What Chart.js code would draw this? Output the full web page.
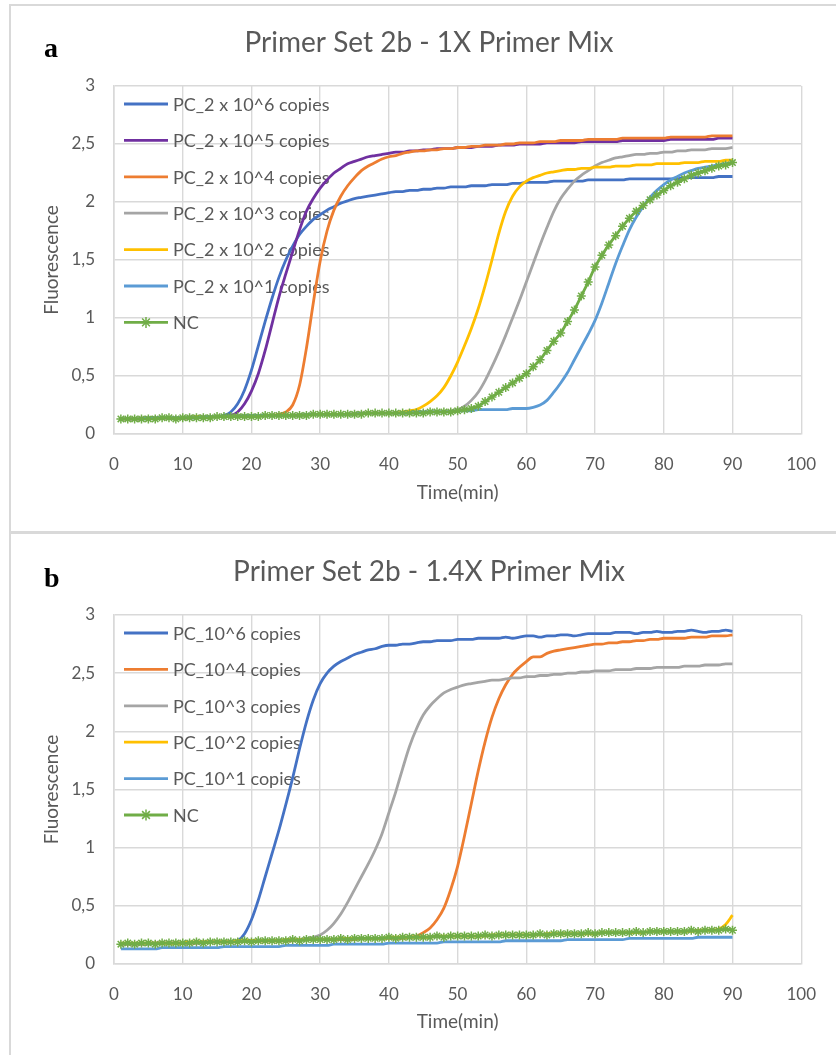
<!DOCTYPE html>
<html>
<head>
<meta charset="utf-8">
<title>Primer Set 2b</title>
<script src="https://cdn.jsdelivr.net/npm/chart.js@4.4.1/dist/chart.umd.min.js"></script>
<style>
  body { margin: 0; background: #fff; width: 836px; height: 1055px; overflow: hidden; position: relative; }
  .panel { position: absolute; left: 0; width: 836px; }
  .line { position: absolute; background: #d9d9d9; }
  .tag { position: absolute; left: 44px; font: bold 28px "Liberation Serif", serif; line-height: 28px; color: #000; }
</style>
</head>
<body>
<div class="panel" style="top:0;height:531px;"><canvas id="chartA"></canvas></div>
<div class="panel" style="top:534px;height:521px;"><canvas id="chartB"></canvas></div>
<div class="line" style="left:9px;top:4px;width:827px;height:2px;"></div>
<div class="line" style="left:9px;top:4px;width:2px;height:1051px;"></div>
<div class="line" style="left:9px;top:531px;width:827px;height:3px;"></div>
<div class="tag" style="top:34px;">a</div>
<div class="tag" style="top:564px;">b</div>

<script>
// sampling times, one reading per minute
var minutes = Array.from({ length: 90 }, function (_, i) { return i + 1; });

var xTickLabels = ['0', '10', '20', '30', '40', '50', '60', '70', '80', '90', '100'];
var yTickLabels = ['0', '0,5', '1', '1,5', '2', '2,5', '3'];

// ---- a: 1X primer mix ----
var labelsA = ['PC_2 x 10^6 copies', 'PC_2 x 10^5 copies', 'PC_2 x 10^4 copies',
               'PC_2 x 10^3 copies', 'PC_2 x 10^2 copies', 'PC_2 x 10^1 copies', 'NC'];
var colorsA = ['#4472C4', '#7030A0', '#ED7D31', '#A5A5A5', '#FFC000', '#5B9BD5', '#70AD47'];

var a_pc6 = [0.13,0.13,0.13,0.13,0.13,0.14,0.14,0.14,0.14,0.14,
             0.14,0.14,0.15,0.15,0.15,0.16,0.19,0.26,0.38,0.55,
             0.76,0.97,1.17,1.35,1.50,1.62,1.72,1.79,1.85,1.89,
             1.93,1.96,1.99,2.01,2.03,2.04,2.05,2.06,2.07,2.08,
             2.09,2.09,2.10,2.10,2.11,2.11,2.12,2.12,2.13,2.13,
             2.13,2.14,2.14,2.14,2.15,2.15,2.15,2.16,2.16,2.17,
             2.17,2.17,2.17,2.18,2.18,2.18,2.18,2.18,2.19,2.19,
             2.19,2.19,2.19,2.19,2.20,2.20,2.20,2.20,2.20,2.20,
             2.20,2.20,2.21,2.21,2.21,2.21,2.21,2.22,2.22,2.22];
var a_pc5 = [0.13,0.13,0.13,0.13,0.14,0.14,0.14,0.14,0.14,0.14,
             0.14,0.15,0.15,0.15,0.15,0.15,0.16,0.19,0.26,0.37,
             0.52,0.72,0.95,1.18,1.38,1.57,1.76,1.92,2.03,2.12,
             2.19,2.25,2.29,2.33,2.35,2.37,2.39,2.40,2.41,2.42,
             2.43,2.43,2.44,2.44,2.45,2.45,2.46,2.46,2.46,2.47,
             2.47,2.47,2.48,2.48,2.48,2.49,2.49,2.49,2.50,2.50,
             2.50,2.50,2.51,2.51,2.51,2.51,2.51,2.52,2.52,2.52,
             2.52,2.52,2.52,2.53,2.53,2.53,2.53,2.53,2.53,2.53,
             2.54,2.54,2.54,2.54,2.54,2.54,2.54,2.55,2.55,2.55];
var a_pc4 = [0.13,0.13,0.13,0.13,0.14,0.14,0.14,0.14,0.14,0.14,
             0.14,0.15,0.15,0.15,0.15,0.15,0.15,0.16,0.16,0.16,
             0.16,0.16,0.16,0.17,0.19,0.25,0.42,0.74,1.13,1.49,
             1.75,1.93,2.05,2.14,2.21,2.27,2.31,2.34,2.37,2.39,
             2.40,2.42,2.43,2.44,2.44,2.45,2.45,2.46,2.46,2.47,
             2.47,2.48,2.48,2.49,2.49,2.49,2.50,2.50,2.51,2.51,
             2.51,2.52,2.52,2.52,2.53,2.53,2.53,2.53,2.54,2.54,
             2.54,2.54,2.54,2.55,2.55,2.55,2.55,2.55,2.55,2.55,
             2.56,2.56,2.56,2.56,2.56,2.56,2.57,2.57,2.57,2.57];
var a_pc3 = [0.13,0.13,0.13,0.14,0.14,0.14,0.14,0.14,0.14,0.14,
             0.15,0.15,0.15,0.15,0.15,0.15,0.15,0.16,0.16,0.16,
             0.16,0.16,0.16,0.16,0.16,0.16,0.17,0.17,0.17,0.17,
             0.17,0.17,0.17,0.17,0.18,0.18,0.18,0.18,0.18,0.18,
             0.18,0.18,0.18,0.18,0.19,0.19,0.19,0.19,0.20,0.21,
             0.24,0.29,0.36,0.46,0.58,0.71,0.85,1.00,1.15,1.31,
             1.47,1.63,1.78,1.92,2.03,2.11,2.18,2.23,2.27,2.31,
             2.34,2.36,2.38,2.39,2.40,2.41,2.41,2.42,2.42,2.43,
             2.43,2.44,2.44,2.45,2.45,2.45,2.46,2.46,2.46,2.47];
var a_pc2 = [0.13,0.13,0.13,0.13,0.14,0.14,0.14,0.14,0.14,0.14,
             0.14,0.15,0.15,0.15,0.15,0.15,0.15,0.15,0.16,0.16,
             0.16,0.16,0.16,0.16,0.16,0.16,0.16,0.17,0.17,0.17,
             0.17,0.17,0.17,0.17,0.17,0.18,0.18,0.18,0.18,0.18,
             0.18,0.19,0.20,0.21,0.24,0.28,0.33,0.40,0.50,0.62,
             0.76,0.91,1.08,1.28,1.50,1.73,1.92,2.05,2.13,2.18,
             2.21,2.23,2.25,2.26,2.27,2.28,2.28,2.29,2.29,2.30,
             2.30,2.30,2.31,2.31,2.31,2.32,2.32,2.32,2.33,2.33,
             2.33,2.33,2.34,2.34,2.34,2.35,2.35,2.35,2.36,2.36];
var a_pc1 = [0.13,0.13,0.13,0.13,0.14,0.14,0.14,0.14,0.14,0.14,
             0.14,0.14,0.15,0.15,0.15,0.15,0.15,0.15,0.16,0.16,
             0.16,0.16,0.16,0.16,0.16,0.16,0.16,0.17,0.17,0.17,
             0.17,0.17,0.17,0.17,0.17,0.18,0.18,0.18,0.18,0.18,
             0.18,0.18,0.18,0.19,0.19,0.19,0.19,0.19,0.19,0.20,
             0.20,0.20,0.21,0.21,0.21,0.21,0.21,0.22,0.22,0.22,
             0.23,0.25,0.29,0.36,0.44,0.53,0.64,0.75,0.86,0.98,
             1.13,1.30,1.47,1.62,1.76,1.87,1.96,2.04,2.10,2.15,
             2.19,2.22,2.25,2.27,2.29,2.30,2.31,2.32,2.33,2.34];
var a_nc  = [0.13,0.13,0.13,0.13,0.13,0.13,0.14,0.14,0.13,0.14,
             0.14,0.14,0.14,0.14,0.15,0.15,0.15,0.15,0.15,0.15,
             0.15,0.16,0.16,0.16,0.16,0.16,0.16,0.16,0.17,0.17,
             0.17,0.17,0.17,0.17,0.17,0.17,0.18,0.18,0.18,0.18,
             0.18,0.18,0.18,0.18,0.18,0.19,0.19,0.19,0.19,0.20,
             0.21,0.22,0.24,0.28,0.32,0.36,0.40,0.44,0.48,0.52,
             0.58,0.64,0.72,0.80,0.87,0.97,1.07,1.19,1.31,1.44,
             1.54,1.63,1.71,1.79,1.86,1.92,1.97,2.02,2.06,2.10,
             2.14,2.17,2.20,2.23,2.25,2.27,2.29,2.31,2.32,2.34];

// ---- b: 1.4X primer mix ----
var labelsB = ['PC_10^6 copies', 'PC_10^4 copies', 'PC_10^3 copies',
               'PC_10^2 copies', 'PC_10^1 copies', 'NC'];
var colorsB = ['#4472C4', '#ED7D31', '#A5A5A5', '#FFC000', '#5B9BD5', '#70AD47'];

var b_pc6 = [0.17,0.17,0.17,0.17,0.17,0.18,0.18,0.18,0.18,0.18,
             0.18,0.18,0.18,0.19,0.19,0.19,0.19,0.20,0.26,0.38,
             0.55,0.75,0.95,1.15,1.37,1.60,1.85,2.08,2.27,2.41,
             2.50,2.56,2.60,2.63,2.66,2.68,2.70,2.71,2.73,2.74,
             2.74,2.75,2.75,2.76,2.77,2.77,2.78,2.78,2.78,2.79,
             2.79,2.79,2.80,2.80,2.80,2.80,2.81,2.80,2.81,2.82,
             2.82,2.81,2.82,2.82,2.83,2.83,2.82,2.83,2.84,2.84,
             2.84,2.84,2.85,2.85,2.85,2.84,2.85,2.85,2.86,2.85,
             2.85,2.86,2.86,2.87,2.86,2.85,2.86,2.86,2.87,2.86];
var b_pc4 = [0.17,0.17,0.17,0.17,0.18,0.18,0.18,0.18,0.18,0.18,
             0.18,0.18,0.19,0.19,0.19,0.19,0.19,0.19,0.20,0.20,
             0.20,0.20,0.20,0.20,0.20,0.20,0.21,0.21,0.21,0.21,
             0.21,0.21,0.21,0.21,0.21,0.22,0.22,0.22,0.22,0.22,
             0.22,0.22,0.23,0.24,0.27,0.31,0.38,0.48,0.64,0.84,
             1.10,1.38,1.66,1.91,2.12,2.28,2.40,2.49,2.55,2.60,
             2.64,2.64,2.67,2.69,2.70,2.71,2.72,2.73,2.74,2.75,
             2.75,2.76,2.76,2.77,2.77,2.78,2.78,2.79,2.79,2.80,
             2.80,2.80,2.80,2.81,2.81,2.81,2.82,2.82,2.82,2.83];
var b_pc3 = [0.17,0.17,0.17,0.17,0.18,0.18,0.18,0.18,0.18,0.18,
             0.18,0.19,0.19,0.19,0.19,0.19,0.19,0.20,0.20,0.20,
             0.20,0.20,0.20,0.20,0.21,0.21,0.21,0.22,0.23,0.25,
             0.29,0.35,0.43,0.53,0.64,0.75,0.86,0.98,1.12,1.30,
             1.48,1.68,1.87,2.02,2.14,2.22,2.28,2.33,2.36,2.38,
             2.40,2.41,2.42,2.43,2.44,2.44,2.45,2.46,2.46,2.47,
             2.47,2.48,2.48,2.49,2.49,2.50,2.50,2.51,2.51,2.52,
             2.52,2.52,2.53,2.53,2.53,2.54,2.54,2.54,2.55,2.55,
             2.55,2.55,2.56,2.56,2.56,2.57,2.57,2.57,2.58,2.58];
var b_pc2 = [0.18,0.18,0.18,0.18,0.18,0.18,0.18,0.18,0.18,0.18,
             0.19,0.19,0.19,0.19,0.19,0.19,0.19,0.20,0.20,0.20,
             0.20,0.20,0.20,0.20,0.21,0.21,0.21,0.21,0.21,0.21,
             0.21,0.21,0.22,0.22,0.22,0.22,0.22,0.22,0.22,0.23,
             0.23,0.23,0.23,0.23,0.23,0.23,0.24,0.24,0.24,0.24,
             0.24,0.24,0.24,0.24,0.25,0.25,0.25,0.25,0.25,0.25,
             0.25,0.25,0.26,0.26,0.26,0.26,0.26,0.26,0.26,0.26,
             0.27,0.27,0.27,0.27,0.27,0.27,0.27,0.28,0.28,0.28,
             0.28,0.28,0.28,0.28,0.29,0.29,0.29,0.30,0.34,0.42];
var b_pc1 = [0.13,0.13,0.13,0.13,0.13,0.13,0.14,0.14,0.14,0.14,
             0.14,0.14,0.14,0.14,0.14,0.15,0.15,0.15,0.15,0.15,
             0.15,0.15,0.15,0.15,0.16,0.16,0.16,0.16,0.16,0.16,
             0.16,0.17,0.17,0.17,0.17,0.17,0.17,0.17,0.17,0.18,
             0.18,0.18,0.18,0.18,0.18,0.18,0.18,0.19,0.19,0.19,
             0.19,0.19,0.19,0.19,0.19,0.19,0.20,0.20,0.20,0.20,
             0.20,0.20,0.20,0.20,0.20,0.21,0.21,0.21,0.21,0.21,
             0.21,0.21,0.21,0.21,0.22,0.22,0.22,0.22,0.22,0.22,
             0.22,0.22,0.22,0.22,0.23,0.23,0.23,0.23,0.23,0.23];
var b_nc  = [0.17,0.18,0.17,0.18,0.18,0.17,0.18,0.18,0.18,0.18,
             0.18,0.19,0.18,0.19,0.19,0.19,0.19,0.19,0.20,0.19,
             0.20,0.20,0.20,0.20,0.20,0.21,0.20,0.21,0.21,0.21,
             0.21,0.21,0.22,0.21,0.22,0.22,0.22,0.22,0.22,0.23,
             0.22,0.23,0.23,0.23,0.23,0.23,0.24,0.23,0.24,0.24,
             0.24,0.24,0.24,0.25,0.24,0.25,0.25,0.25,0.25,0.25,
             0.25,0.26,0.25,0.26,0.26,0.26,0.26,0.26,0.27,0.26,
             0.27,0.27,0.27,0.27,0.27,0.28,0.27,0.28,0.28,0.28,
             0.28,0.28,0.28,0.29,0.28,0.29,0.29,0.29,0.30,0.29];

var seriesA = [a_pc6, a_pc5, a_pc4, a_pc3, a_pc2, a_pc1, a_nc];
var seriesB = [b_pc6, b_pc4, b_pc3, b_pc2, b_pc1, b_nc];

var FONT = 'Lato, "Open Sans", sans-serif';
var TEXT = '#595959';
var GRID = '#d9d9d9';
Chart.defaults.font.family = FONT;
Chart.defaults.color = TEXT;

// legend drawn inside the plot area, under the curves
var insideLegend = {
  id: 'insideLegend',
  beforeDatasetsDraw: function (chart, args, opts) {
    var ctx = chart.ctx, area = chart.chartArea;
    ctx.save();
    ctx.font = opts.fontSize + 'px ' + FONT;
    ctx.textBaseline = 'middle';
    chart.data.datasets.forEach(function (ds, i) {
      var y = area.top + opts.top + i * opts.rowGap;
      var x0 = area.left + opts.left;
      ctx.strokeStyle = ds.borderColor;
      ctx.lineWidth = ds.borderWidth;
      ctx.beginPath();
      ctx.moveTo(x0, y);
      ctx.lineTo(x0 + opts.lineLength, y);
      ctx.stroke();
      if (ds.pointRadius > 0) {
        ctx.lineWidth = ds.pointBorderWidth;
        Chart.helpers.drawPoint(ctx, { pointStyle: ds.pointStyle, radius: 5.5, borderWidth: ds.pointBorderWidth, rotation: 0 }, x0 + opts.lineLength / 2, y);
      }
      ctx.fillStyle = TEXT;
      ctx.fillText(ds.label, x0 + opts.lineLength + opts.gap, y + 1);
    });
    ctx.restore();
  }
};

function makeChart(id, title, labels, colors, series, g) {
  var datasets = labels.map(function (name, i) {
    var isNC = name === 'NC';
    return {
      label: name,
      data: minutes.map(function (t, k) { return { x: t, y: series[i][k] }; }),
      borderColor: colors[i],
      backgroundColor: colors[i],
      borderWidth: 2.8,
      cubicInterpolationMode: 'monotone',
      pointStyle: isNC ? 'star' : 'circle',
      pointRadius: isNC ? 4.5 : 0,
      pointBorderColor: colors[i],
      pointBorderWidth: 1.5,
      order: labels.length - i
    };
  });

  return new Chart(document.getElementById(id), {
    type: 'line',
    data: { datasets: datasets },
    plugins: [insideLegend],
    options: {
      responsive: true,
      maintainAspectRatio: false,
      animation: false,
      layout: { padding: { left: 49, right: 27, top: 0, bottom: 0 } },
      plugins: {
        legend: { display: false },
        tooltip: { enabled: false },
        title: {
          display: true,
          text: title,
          color: TEXT,
          font: { size: 28, weight: 'normal' },
          padding: { top: g.titleTop, bottom: g.titleBottom }
        },
        insideLegend: { top: 18, rowGap: 36.4, left: 10, lineLength: 44, gap: 5, fontSize: 18 }
      },
      scales: {
        x: {
          type: 'linear',
          min: 0, max: 100,
          afterFit: function (s) { s.height = g.xHeight; },
          ticks: {
            stepSize: 10,
            padding: 20,
            font: { size: 17 },
            color: TEXT,
            callback: function (v, i) { return xTickLabels[i]; }
          },
          grid: { color: GRID, lineWidth: 1.4, drawTicks: false },
          border: { color: GRID, width: 1.6 },
          title: { display: true, text: 'Time(min)', color: TEXT, font: { size: 19 }, padding: { bottom: g.xTitleBottom } }
        },
        y: {
          min: 0, max: 3,
          afterFit: function (s) { s.width = 65; },
          ticks: {
            stepSize: 0.5,
            padding: 19,
            font: { size: 17 },
            color: TEXT,
            callback: function (v, i) { return yTickLabels[i]; }
          },
          grid: { color: GRID, lineWidth: 1.4, drawTicks: false },
          border: { color: GRID, width: 1.6 },
          title: { display: true, text: 'Fluorescence', color: TEXT, font: { size: 19 }, padding: { top: -8.4 } }
        }
      }
    }
  });
}

makeChart('chartA', 'Primer Set 2b - 1X Primer Mix', labelsA, colorsA, seriesA,
  { titleTop: 26.2, titleBottom: 26.2, xHeight: 97, xTitleBottom: 26.6 });
makeChart('chartB', 'Primer Set 2b - 1.4X Primer Mix', labelsB, colorsB, seriesB,
  { titleTop: 21.2, titleBottom: 26.2, xHeight: 91, xTitleBottom: 21.6 });
</script>
</body>
</html>
